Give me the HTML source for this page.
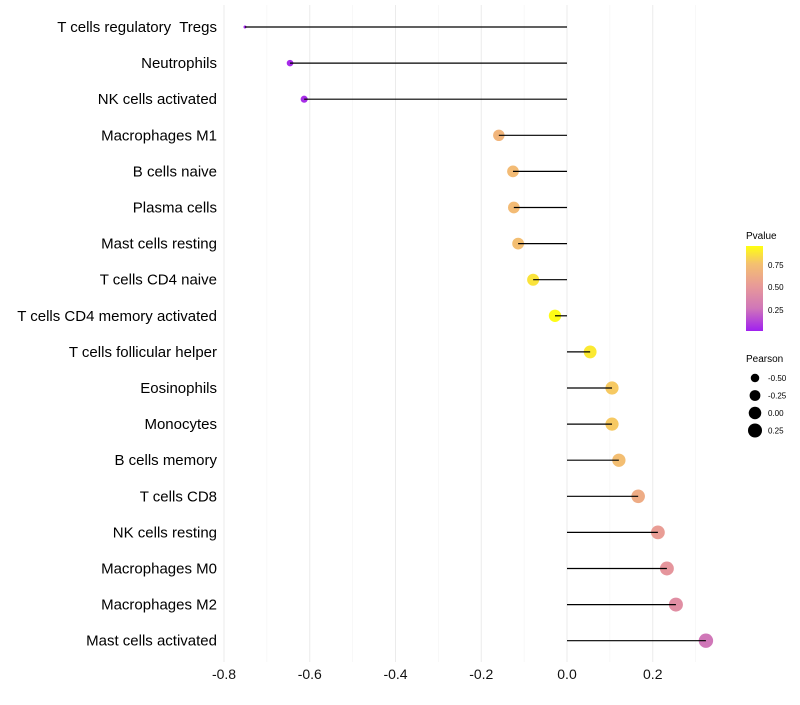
<!DOCTYPE html>
<html><head><meta charset="utf-8"><style>
body{margin:0;background:#fff;font-family:"Liberation Sans",sans-serif}
</style></head><body>
<svg id="chart" width="800" height="700" xmlns="http://www.w3.org/2000/svg" font-family="Liberation Sans, sans-serif">
<defs><linearGradient id="pg" x1="0" y1="1" x2="0" y2="0">
<stop offset="0" stop-color="#a020f0"/><stop offset="0.27" stop-color="#d077b8"/><stop offset="0.53" stop-color="#e89a98"/><stop offset="0.79" stop-color="#f4c070"/><stop offset="1" stop-color="#ffff10"/></linearGradient></defs>
<g id="grid"></g><g id="marks"></g><g id="labels"></g>
<g>
<text x="746" y="239" font-size="10">Pvalue</text>
<rect x="746" y="246" width="17" height="85" fill="url(#pg)"/>
<text x="768" y="268" font-size="8">0.75</text>
<text x="768" y="290" font-size="8">0.50</text>
<text x="768" y="313" font-size="8">0.25</text>
</g>
<g id="sizeLegend">
<text x="746" y="362" font-size="10">Pearson</text>
</g>
</svg>
<script>
const cats=["T cells regulatory  Tregs","Neutrophils","NK cells activated","Macrophages M1","B cells naive","Plasma cells","Mast cells resting","T cells CD4 naive","T cells CD4 memory activated","T cells follicular helper","Eosinophils","Monocytes","B cells memory","T cells CD8","NK cells resting","Macrophages M0","Macrophages M2","Mast cells activated"];
const pearson=[-0.751,-0.646,-0.613,-0.159,-0.126,-0.124,-0.114,-0.079,-0.028,0.054,0.105,0.105,0.121,0.166,0.212,0.233,0.254,0.324];
const pvals=[0.01,0.03,0.04,0.68,0.72,0.72,0.74,0.86,0.94,0.88,0.78,0.78,0.74,0.62,0.52,0.47,0.42,0.26];
const xTicks=[-0.8,-0.6,-0.4,-0.2,0.0,0.2];
const sizeBreaks=[-0.5,-0.25,0,0.25];
const NS="http://www.w3.org/2000/svg";
const x=v=>567+v*428.75;
const y=i=>27+i*36.1;
const vmin=Math.min(...pearson);
const r=v=>1.5+5.5*Math.sqrt(Math.max(0,v-vmin));
function col(p){const st=[[0,[160,32,240]],[0.27,[208,119,184]],[0.53,[232,154,152]],[0.79,[244,192,112]],[1,[255,255,16]]];
 const t=Math.min(1,Math.max(0,p/0.95));for(let k=1;k<st.length;k++){if(t<=st[k][0]){const a=st[k-1],b=st[k],f=(t-a[0])/(b[0]-a[0]);return "rgb("+a[1].map((c,j)=>Math.round(c+(b[1][j]-c)*f)).join(",")+")";}}return "rgb(255,255,16)";}
function mk(t,at,parent){const e=document.createElementNS(NS,t);for(const k in at)e.setAttribute(k,at[k]);parent.appendChild(e);return e;}
const grid=document.getElementById("grid"),marks=document.getElementById("marks"),labels=document.getElementById("labels");
for(let v=-0.8;v<=0.31;v+=0.1){const vv=Math.round(v*10)/10;const major=Math.abs(Math.round(vv*10))%2===0;
 const g=mk("line",{x1:x(vv),x2:x(vv),y1:5,y2:662,stroke:major?"#ebebeb":"#f4f4f4","stroke-width":major?1:0.6},grid);
 
 }
xTicks.forEach(v=>{const t=mk("text",{x:x(v),y:679,"font-size":14,"text-anchor":"middle",fill:"#111"},labels);t.textContent=v.toFixed(1);
 
 });
cats.forEach((c,i)=>{
 const t=mk("text",{x:217,y:y(i)+5,"font-size":15,"text-anchor":"end",fill:"#000","xml:space":"preserve"},labels);t.style.whiteSpace="pre";t.textContent=c;
 
 
 const p=mk("circle",{cx:x(pearson[i]),cy:y(i),r:r(pearson[i]),fill:col(pvals[i])},marks);
 
 
 const l=mk("line",{x1:x(0),x2:x(pearson[i]),y1:y(i),y2:y(i),stroke:"#000","stroke-width":1.2},marks);
 
 
});
const sl=document.getElementById("sizeLegend");
sizeBreaks.forEach((v,k)=>{const cy=378+k*17.5;
 const c=mk("circle",{cx:755,cy:cy,r:r(v),fill:"#000"},sl);
 
 
 const t=mk("text",{x:768,y:cy+3,"font-size":8},sl);t.textContent=v.toFixed(2);
 
 });
</script>
</body></html>
